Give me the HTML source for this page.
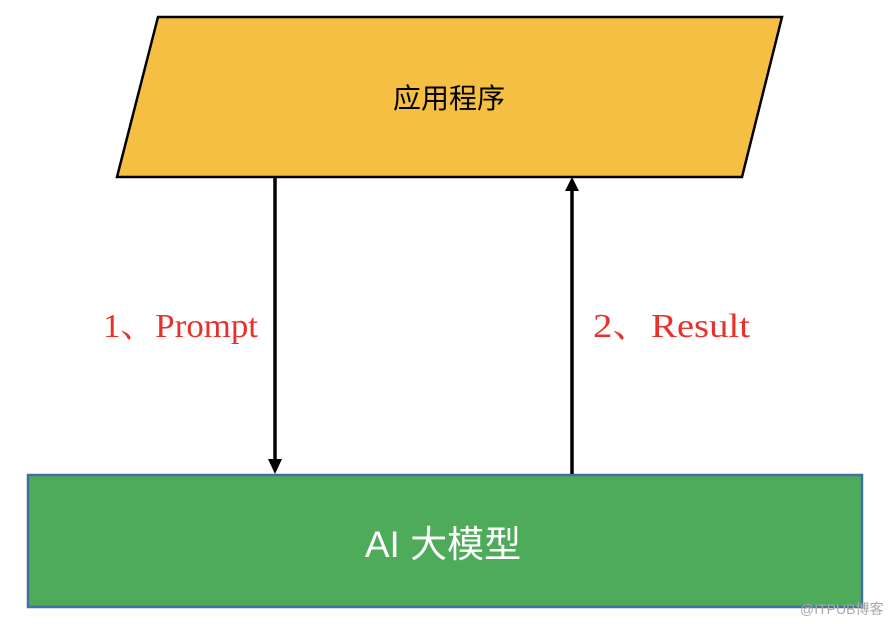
<!DOCTYPE html>
<html><head><meta charset="utf-8"><style>html,body{margin:0;padding:0;background:#fff}svg{display:block}</style></head>
<body>
<svg width="890" height="624" viewBox="0 0 890 624" xmlns="http://www.w3.org/2000/svg">
<polygon points="158,17 782,17 742,177 117,177" fill="#f4bf42" stroke="#000" stroke-width="2.5"/>
<text x="449" y="108" font-family="'Liberation Sans','Noto Sans CJK SC',sans-serif" font-size="28" text-anchor="middle" fill="#000">应用程序</text>
<rect x="28" y="475" width="834" height="132" fill="#4dab5a" stroke="#41719c" stroke-width="2.5"/>
<text x="443" y="557" font-family="'Liberation Sans','Noto Sans CJK SC',sans-serif" font-size="37" text-anchor="middle" fill="#fff">AI 大模型</text>
<line x1="275" y1="177" x2="275" y2="460" stroke="#000" stroke-width="3.5"/>
<polygon points="268,459 282,459 275,474" fill="#000"/>
<line x1="572" y1="474" x2="572" y2="190" stroke="#000" stroke-width="3.5"/>
<polygon points="565,191 579,191 572,177" fill="#000"/>
<text x="103" y="337" font-family="'Liberation Serif','Noto Serif CJK SC',serif" font-size="34" fill="#e8312a" textLength="155" lengthAdjust="spacingAndGlyphs">1、Prompt</text>
<text x="593" y="337" font-family="'Liberation Serif','Noto Serif CJK SC',serif" font-size="34" fill="#e8312a" textLength="157" lengthAdjust="spacingAndGlyphs">2、Result</text>
<text x="800" y="614" font-family="'Liberation Sans','Noto Sans CJK SC',sans-serif" font-size="14" fill="#aaa">@ITPUB博客</text>
</svg>
</body></html>
